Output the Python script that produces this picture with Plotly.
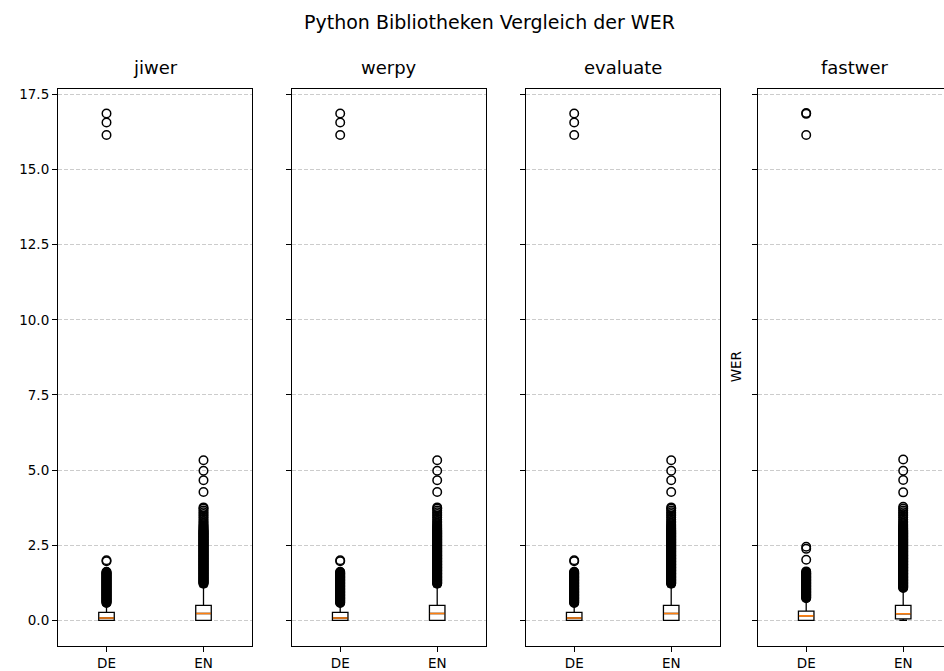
import plotly.graph_objects as go

# ---------------- data ----------------
libraries = ["jiwer", "werpy", "evaluate", "fastwer"]
languages = ["DE", "EN"]

# box statistics per library
q1_de = [0.0, 0.0, 0.0, 0.0]
median_de = [0.08, 0.08, 0.08, 0.15]
q3_de = [0.27, 0.27, 0.27, 0.31]
lowfence_de = [0.0, 0.0, 0.0, 0.0]
highfence_de = [0.50, 0.50, 0.50, 0.66]

q1_en = [0.0, 0.0, 0.0, 0.05]
median_en = [0.23, 0.23, 0.23, 0.22]
q3_en = [0.50, 0.50, 0.50, 0.50]
lowfence_en = [0.0, 0.0, 0.0, 0.0]
highfence_en = [1.12, 1.12, 1.12, 1.02]

# outliers (fliers)
fliers_de_common = [0.58, 0.60, 0.62, 0.64, 0.66, 0.68, 0.70, 0.72, 0.74, 0.76,
                    0.78, 0.80, 0.82, 0.84, 0.86, 0.88, 0.90, 0.92, 0.94, 0.96,
                    0.98, 1.00, 1.02, 1.04, 1.06, 1.08, 1.10, 1.12, 1.14, 1.16,
                    1.18, 1.20, 1.22, 1.24, 1.26, 1.28, 1.30, 1.32, 1.34, 1.36,
                    1.38, 1.40, 1.42, 1.44, 1.46, 1.48, 1.50, 1.52, 1.54, 1.56,
                    1.58, 1.60, 1.62, 1.97, 2.00,
                    16.15, 16.56, 16.86]
fliers_de_fastwer = [0.74, 0.76, 0.78, 0.80, 0.82, 0.84, 0.86, 0.88, 0.90, 0.92,
                     0.94, 0.96, 0.98, 1.00, 1.02, 1.04, 1.06, 1.08, 1.10, 1.12,
                     1.14, 1.16, 1.18, 1.20, 1.22, 1.24, 1.26, 1.28, 1.30, 1.32,
                     1.34, 1.36, 1.38, 1.40, 1.42, 1.44, 1.46, 1.48, 1.50, 1.52,
                     1.54, 1.56, 1.58, 1.60, 1.63, 2.02, 2.38, 2.45,
                     16.15, 16.85, 16.88]
fliers_en_common = [1.22, 1.24, 1.26, 1.28, 1.30, 1.32, 1.34, 1.36, 1.38, 1.40,
                    1.42, 1.44, 1.46, 1.48, 1.50, 1.52, 1.54, 1.56, 1.58, 1.60,
                    1.62, 1.64, 1.66, 1.68, 1.70, 1.72, 1.74, 1.76, 1.78, 1.80,
                    1.82, 1.84, 1.86, 1.88, 1.90, 1.92, 1.94, 1.96, 1.98, 2.00,
                    2.02, 2.04, 2.06, 2.08, 2.10, 2.12, 2.14, 2.16, 2.18, 2.20,
                    2.22, 2.24, 2.26, 2.28, 2.30, 2.32, 2.34, 2.36, 2.38, 2.40,
                    2.42, 2.44, 2.46, 2.48, 2.50, 2.52, 2.54, 2.56, 2.58, 2.60,
                    2.62, 2.64, 2.66, 2.68, 2.70, 2.72, 2.74, 2.76, 2.78, 2.80,
                    2.82, 2.84, 2.86, 2.88, 2.90, 2.92, 2.94, 2.96, 2.98, 3.00,
                    3.03, 3.06, 3.09, 3.12, 3.16, 3.20, 3.25, 3.30, 3.36, 3.42,
                    3.48, 3.54, 3.60, 3.66, 3.72, 3.76,
                    4.27, 4.66, 4.98, 5.33]
fliers_en_fastwer = [1.08, 1.10, 1.12, 1.14, 1.16, 1.18, 1.20, 1.22, 1.24, 1.26,
                     1.28, 1.30, 1.32, 1.34, 1.36, 1.38, 1.40, 1.42, 1.44, 1.46,
                     1.48, 1.50, 1.52, 1.54, 1.56, 1.58, 1.60, 1.62, 1.64, 1.66,
                     1.68, 1.70, 1.72, 1.74, 1.76, 1.78, 1.80, 1.82, 1.84, 1.86,
                     1.88, 1.90, 1.92, 1.94, 1.96, 1.98, 2.00, 2.02, 2.04, 2.06,
                     2.08, 2.10, 2.12, 2.14, 2.16, 2.18, 2.20, 2.22, 2.24, 2.26,
                     2.28, 2.30, 2.32, 2.34, 2.36, 2.38, 2.40, 2.42, 2.44, 2.46,
                     2.48, 2.50, 2.52, 2.54, 2.56, 2.58, 2.60, 2.62, 2.64, 2.66,
                     2.68, 2.70, 2.72, 2.74, 2.76, 2.78, 2.80, 2.82, 2.84, 2.86,
                     2.88, 2.90, 2.92, 2.94, 2.96, 2.98, 3.00, 3.03, 3.06, 3.09,
                     3.12, 3.16, 3.20, 3.25, 3.30, 3.36, 3.42, 3.48, 3.54, 3.60,
                     3.66, 3.72, 3.78,
                     4.26, 4.67, 4.98, 5.35]

fliers_de = [fliers_de_common, fliers_de_common, fliers_de_common, fliers_de_fastwer]
fliers_en = [fliers_en_common, fliers_en_common, fliers_en_common, fliers_en_fastwer]

y_ticks = [0.0, 2.5, 5.0, 7.5, 10.0, 12.5, 15.0, 17.5]
y_range = [-0.845, 17.69]

# ---------------- layout geometry (pixels) ----------------
W, H = 944, 671
panel_left = [58.0, 291.7, 525.7, 757.7]
panel_w = 194.0
top_px, bottom_px = 86.0, 645.7
positions = [1, 2]
FONT = "DejaVu Sans"
ORANGE = "#ff7f0e"

fig = go.Figure()
layout_axes = {}
annotations = []

for i, lib in enumerate(libraries):
    n = i + 1
    xa = "x" if n == 1 else f"x{n}"
    ya = "y" if n == 1 else f"y{n}"
    fig.add_trace(go.Box(
        x=positions,
        q1=[q1_de[i], q1_en[i]], median=[median_de[i], median_en[i]],
        q3=[q3_de[i], q3_en[i]],
        lowerfence=[lowfence_de[i], lowfence_en[i]],
        upperfence=[highfence_de[i], highfence_en[i]],
        width=0.16, whiskerwidth=0.5, boxpoints=False,
        line=dict(color="black", width=1.3), fillcolor="rgba(0,0,0,0)",
        xaxis=xa, yaxis=ya, showlegend=False, hoverinfo="skip"))
    fig.add_trace(go.Box(
        x=positions,
        q1=[median_de[i], median_en[i]], median=[median_de[i], median_en[i]],
        q3=[median_de[i], median_en[i]],
        lowerfence=[median_de[i], median_en[i]],
        upperfence=[median_de[i], median_en[i]],
        width=0.15, whiskerwidth=1.0, boxpoints=False,
        line=dict(color=ORANGE, width=1.6), fillcolor="rgba(0,0,0,0)",
        xaxis=xa, yaxis=ya, showlegend=False, hoverinfo="skip"))
    fx = [positions[0]] * len(fliers_de[i]) + [positions[1]] * len(fliers_en[i])
    fy = fliers_de[i] + fliers_en[i]
    fig.add_trace(go.Scatter(
        x=fx, y=fy, mode="markers",
        marker=dict(symbol="circle-open", size=8.5, color="black",
                    line=dict(width=1.5, color="black")),
        xaxis=xa, yaxis=ya, showlegend=False, hoverinfo="skip"))

    x0 = panel_left[i]
    x1 = min(x0 + panel_w, W)
    px_per_unit = panel_w / 2.0
    xr = [0.5, 0.5 + (x1 - x0) / px_per_unit]
    last = (n == len(libraries))
    layout_axes["xaxis" if n == 1 else f"xaxis{n}"] = dict(
        domain=[x0 / W, x1 / W], range=xr, anchor=ya,
        tickvals=positions, ticktext=languages,
        ticks="outside", ticklen=5, tickwidth=1.1, tickcolor="black",
        showline=True, linecolor="black", linewidth=1.1, mirror=True,
        showgrid=False, zeroline=False,
        tickfont=dict(family=FONT, size=13.5, color="black"))
    layout_axes["yaxis" if n == 1 else f"yaxis{n}"] = dict(
        domain=[1 - bottom_px / H, 1 - top_px / H], range=y_range, anchor=xa,
        tickvals=y_ticks, ticktext=[f"{v:.1f}" for v in y_ticks],
        showticklabels=(n == 1),
        ticks="outside", ticklen=5, tickwidth=1.1, tickcolor="black",
        showline=True, linecolor="black", linewidth=1.1,
        mirror=(not last),
        showgrid=True, gridcolor="#cccccc", gridwidth=1, griddash="4px,2px",
        zeroline=False,
        tickfont=dict(family=FONT, size=13.5, color="black"))
    annotations.append(dict(
        text=lib, xref="paper", yref="paper",
        x=(x0 + panel_w / 2) / W, y=1 - 65 / H,
        xanchor="center", yanchor="middle", showarrow=False,
        font=dict(family=FONT, size=18, color="black")))

annotations.append(dict(
    text="Python Bibliotheken Vergleich der WER", xref="paper", yref="paper",
    x=490 / W, y=1 - 19 / H, xanchor="center", yanchor="middle",
    showarrow=False, font=dict(family=FONT, size=19, color="black")))
annotations.append(dict(
    text="WER", xref="paper", yref="paper",
    x=736 / W, y=1 - 366 / H, xanchor="center", yanchor="middle",
    textangle=-90, showarrow=False,
    font=dict(family=FONT, size=13.5, color="black")))

fig.update_layout(
    width=W, height=H,
    margin=dict(l=0, r=0, t=0, b=0),
    paper_bgcolor="white", plot_bgcolor="white",
    boxmode="overlay",
    annotations=annotations,
    **layout_axes)

fig.write_html(
    "out.html",
    config={"displayModeBar": False},
    post_script="document.body.style.margin='0';document.body.style.padding='0';"
                "document.documentElement.style.overflow='hidden';")
